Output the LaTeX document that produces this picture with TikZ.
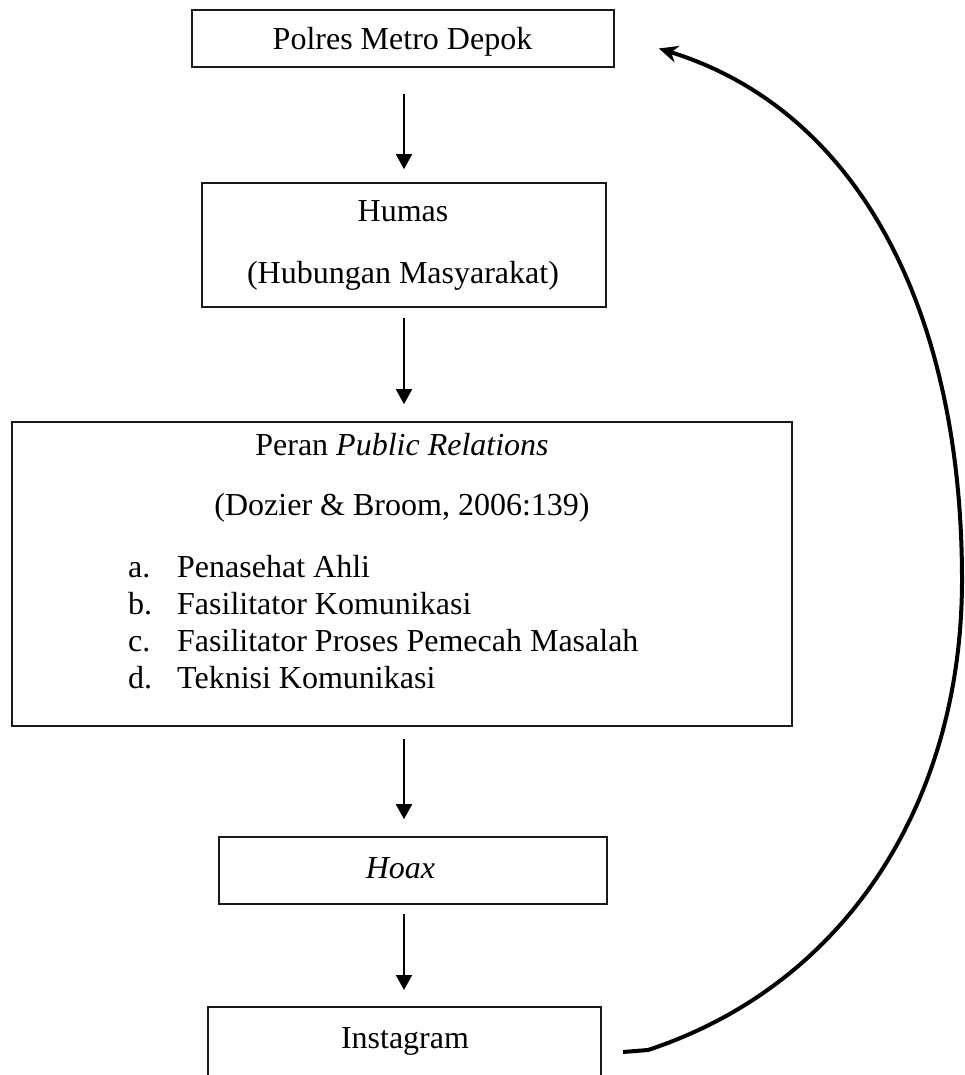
\documentclass[tikz,border=0pt]{standalone}
\usepackage{fontspec}
\setmainfont{Liberation Serif}
\usetikzlibrary{arrows.meta,calc}
\begin{document}
\begin{tikzpicture}[x=1pt,y=-1pt,
  box/.style={draw=black!90,line width=1.6pt,inner sep=0pt},
  txt/.style={inner sep=0pt,anchor=base,font=\fontsize{32}{38}\selectfont},
  arr/.style={line width=1.8pt,-{Triangle[length=15pt,width=16pt]}},
  bigarr/.style={line width=4pt,line join=round,-{Stealth[length=19pt,width=17pt]}}]
\useasboundingbox (0,0) rectangle (964,1075);
\clip (0,0) rectangle (964,1075);
\coordinate (axis) at (404,0);
% box 1
\node[box,minimum width=422pt,minimum height=57pt] (polres) at (403,38.5) {};
\node[txt] (t1) at (402.5,50) {Polres Metro Depok};
% box 2
\node[box,minimum width=404pt,minimum height=124pt] (humas) at (404,245) {};
\node[txt] (t2a) at (403,222) {Humas};
\node[txt] (t2b) at (403,283) {(Hubungan Masyarakat)};
% box 3
\node[box,minimum width=780pt,minimum height=304pt] (peran) at (402,574) {};
\node[txt] (t3a) at (402,455) {Peran \textit{Public Relations}};
\node[txt] (t3b) at (402,515) {(Dozier \& Broom, 2006:139)};
\node[txt,anchor=base west] (la) at (128,577) {a.};
\node[txt,anchor=base west] (ia) at (177,577) {Penasehat Ahli};
\node[txt,anchor=base west] (lb) at (128,614) {b.};
\node[txt,anchor=base west] (ib) at (177,614) {Fasilitator Komunikasi};
\node[txt,anchor=base west] (lc) at (128,651) {c.};
\node[txt,anchor=base west] (ic) at (177,651) {Fasilitator Proses Pemecah Masalah};
\node[txt,anchor=base west] (ld) at (128,688) {d.};
\node[txt,anchor=base west] (id) at (177,688) {Teknisi Komunikasi};
% box 4
\node[box,minimum width=388pt,minimum height=67pt] (hoax) at (413,870.5) {};
\node[txt] (t4) at (400.5,878) {\textit{Hoax}};
% box 5 (open at the bottom)
\coordinate (iL) at (208,1007);
\coordinate (iR) at (601,1007);
\draw[black!90,line width=1.6pt] (iL |- 0,1090) -- (iL) -- (iR) -- (iR |- 0,1090);
\node[txt] (insta) at (405,1048) {Instagram};
% arrows
\draw[arr] (polres.south -| axis) ++(0,26) -- ($(humas.north -| axis)+(0,-13)$);
\draw[arr] (humas.south -| axis) ++(0,10) -- ($(peran.north -| axis)+(0,-17)$);
\draw[arr] (peran.south -| axis) ++(0,12) -- ($(hoax.north -| axis)+(0,-17)$);
\draw[arr] (hoax.south -| axis) ++(0,9) -- ($(iL -| axis)+(0,-17)$);
% feedback curve
\coordinate (cstart) at ($(iR)+(22,45)$);
\coordinate (cend) at ($(polres.east)+(44,10)$);
\draw[bigarr] (cstart) -- (648,1050) .. controls (848,984) and (962,800) .. (962,580)
  .. controls (962,310) and (858,110) .. (cend);
\end{tikzpicture}
\end{document}
